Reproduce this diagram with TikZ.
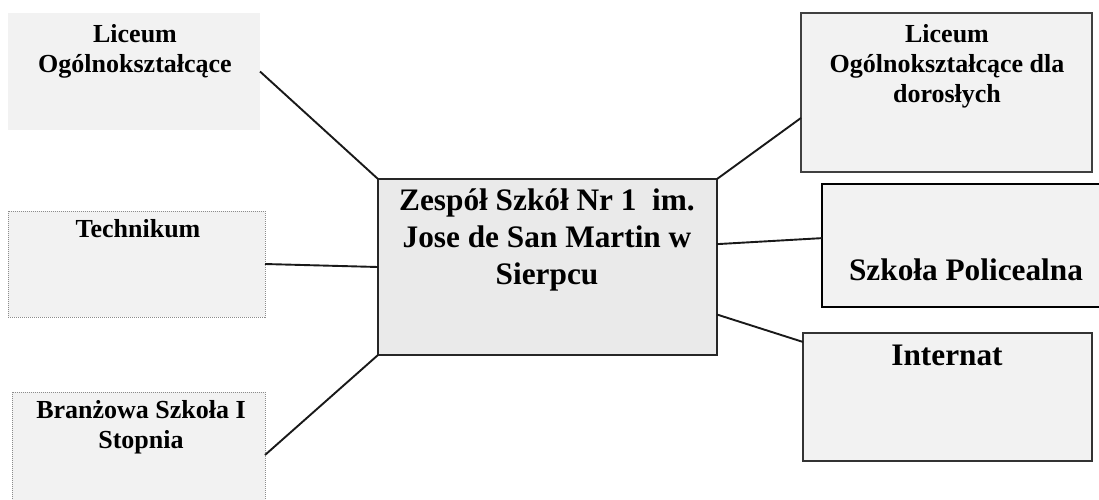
\documentclass[tikz,border=0pt]{standalone}
\usepackage{fontspec}
\setmainfont{Liberation Serif}
\usetikzlibrary{calc}
\definecolor{boxfill}{HTML}{F2F2F2}
\definecolor{midfill}{HTML}{EAEAEA}
\tikzset{
  box/.style={rectangle, anchor=north west, inner sep=0pt, outer sep=0pt, fill=boxfill},
  lbl/.style={anchor=base, inner sep=0pt, align=center, font=\fontsize{26}{30}\selectfont\bfseries},
  biglbl/.style={anchor=base, inner sep=0pt, align=center, font=\fontsize{31.3}{37}\selectfont\bfseries},
  conn/.style={draw=black!90, line width=1.9pt},
  dotb/.style={draw=black!45, densely dotted, line width=1pt}
}
\begin{document}
\begin{tikzpicture}[x=1pt, y=-1pt]
\useasboundingbox (0,0) rectangle (1099,499);
% boxes
\node[box, minimum width=252pt, minimum height=117pt] (lo) at (8,13) {};
\node[box, draw=black!75, line width=1.4pt, minimum width=291pt, minimum height=159pt] (lod) at (801,13) {};
\node[box, dotb, minimum width=257pt, minimum height=106pt] (tech) at (8,211) {};
\node[box, fill=midfill, draw=black!85, line width=1.8pt, minimum width=339pt, minimum height=176pt] (zs) at (378,179) {};
\node[box, draw=black, line width=2.6pt, minimum width=290pt, minimum height=123pt] (sp) at (822,184) {};
\node[box, draw=black!80, line width=1.4pt, minimum width=289pt, minimum height=128pt] (int) at (803,333) {};
\node[box, dotb, minimum width=253pt, minimum height=126pt] (bs) at (12,392) {};
% labels
\node[lbl] (tlo) at (135,72) {Liceum\\Ogólnokształcące};
\node[lbl] (tlod) at (947,102) {Liceum\\Ogólnokształcące dla\\dorosłych};
\node[lbl] (ttech) at (138,237) {Technikum};
\node[biglbl] (tzs) at (547,284) {Zespół Szkół Nr 1\ \ im.\\Jose de San Martin w\\Sierpcu};
\node[biglbl] (tsp) at (966,280) {Szkoła Policealna};
\node[biglbl] (tint) at (947,365) {Internat};
\node[lbl] (tbs) at (141,448) {Branżowa Szkoła I\\Stopnia};
% connectors
\draw[conn] (lo.east) -- (zs.north west);
\draw[conn] (tech.east) -- (zs.west);
\draw[conn] (bs.east) -- (zs.south west);
\draw[conn] (zs.north east) -- ($(lod.north west)!0.66!(lod.south west)$);
\draw[conn] ($(zs.north east)!0.37!(zs.south east)$) -- ($(sp.north west)!0.44!(sp.south west)$);
\draw[conn] ($(zs.north east)!0.77!(zs.south east)$) -- ($(int.north west)!0.07!(int.south west)$);
\end{tikzpicture}
\end{document}
